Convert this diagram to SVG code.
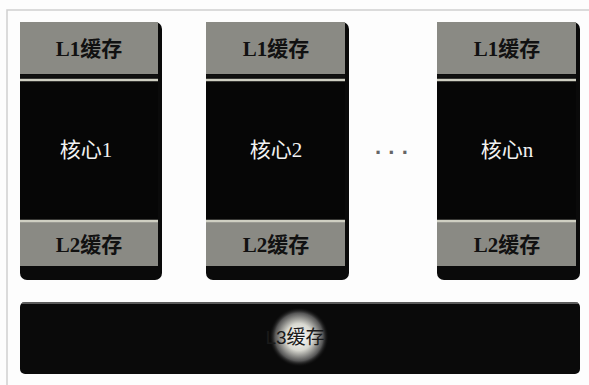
<svg xmlns="http://www.w3.org/2000/svg" width="589" height="385" viewBox="0 0 589 385">
<style>
.shadow{fill:#0a0a0a}
.cache{fill:#8a8a84}
.core{fill:#060606}
.dark{stroke:#111;stroke-width:3}
.light{stroke:#cfcfc2;stroke-width:2.5}
.ct{font-family:"Liberation Serif","Noto Sans CJK SC",serif;font-size:21px;font-weight:bold;fill:#111;text-anchor:middle}
.wt{font-family:"Liberation Serif","Noto Sans CJK SC",serif;font-size:21px;fill:#f2f2f2;text-anchor:middle}
</style>
<defs>
<radialGradient id="glow" cx="0.5" cy="0.5" r="0.5">
<stop offset="0" stop-color="#ffffff"/>
<stop offset="0.45" stop-color="#d8d8d0"/>
<stop offset="0.8" stop-color="#555"/>
<stop offset="1" stop-color="#050505" stop-opacity="0"/>
</radialGradient>
</defs>
<rect width="589" height="385" fill="#fdfdfd"/>
<path d="M7 385 V10 H589" fill="none" stroke="#d0d0d0" stroke-width="1.5"/>
<g id="col1">
<rect class="shadow" x="20" y="22" width="142" height="258" rx="7"/>
<rect class="cache" x="20" y="22" width="138" height="52"/>
<rect class="core" x="20" y="78" width="138" height="142"/>
<rect class="cache" x="20" y="221" width="138" height="45"/>
<line class="dark" x1="20" y1="76" x2="158" y2="76"/>
<line class="light" x1="20" y1="80" x2="158" y2="80"/>
<line class="light" x1="20" y1="221" x2="158" y2="221"/>
<text class="ct" x="89" y="56">L1缓存</text>
<text class="wt" x="86" y="157">核心1</text>
<text class="ct" x="89" y="252">L2缓存</text>
</g>
<g id="col2">
<rect class="shadow" x="206" y="22" width="143" height="258" rx="7"/>
<rect class="cache" x="206" y="22" width="139" height="52"/>
<rect class="core" x="206" y="78" width="139" height="142"/>
<rect class="cache" x="206" y="221" width="139" height="45"/>
<line class="dark" x1="206" y1="76" x2="345" y2="76"/>
<line class="light" x1="206" y1="80" x2="345" y2="80"/>
<line class="light" x1="206" y1="221" x2="345" y2="221"/>
<text class="ct" x="276" y="56">L1缓存</text>
<text class="wt" x="276" y="157">核心2</text>
<text class="ct" x="276" y="252">L2缓存</text>
</g>
<g id="dots">
<text x="392" y="160" font-family="Liberation Sans, sans-serif" font-size="22" font-weight="bold" fill="#666" text-anchor="middle">· · ·</text>
</g>
<g id="coln">
<rect class="shadow" x="437" y="22" width="143" height="258" rx="7"/>
<rect class="cache" x="437" y="22" width="139" height="52"/>
<rect class="core" x="437" y="78" width="139" height="142"/>
<rect class="cache" x="437" y="221" width="139" height="45"/>
<line class="dark" x1="437" y1="76" x2="576" y2="76"/>
<line class="light" x1="437" y1="80" x2="576" y2="80"/>
<line class="light" x1="437" y1="221" x2="576" y2="221"/>
<text class="ct" x="507" y="56">L1缓存</text>
<text class="wt" x="507" y="157">核心n</text>
<text class="ct" x="507" y="252">L2缓存</text>
</g>
<g id="l3">
<rect class="shadow" x="20" y="302" width="560" height="72" rx="5"/>
<line x1="22" y1="303" x2="578" y2="303" stroke="#777" stroke-width="1.5"/>
<circle cx="299" cy="337" r="30" fill="url(#glow)"/>
<text x="295" y="344" font-family="Liberation Sans,'Noto Sans CJK SC',sans-serif" font-size="19" fill="#1a1a1a" text-anchor="middle">L3缓存</text>
</g>
</svg>
